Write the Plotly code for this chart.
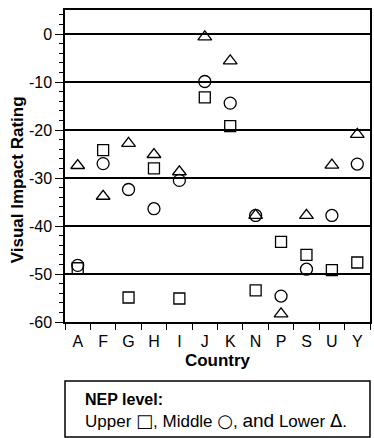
import plotly.graph_objects as go

countries = ["A", "F", "G", "H", "I", "J", "K", "N", "P", "S", "U", "Y"]
upper = [-48.8, -24.2, -54.9, -28.0, -55.1, -13.2, -19.2, -53.4, -43.3, -46.0, -49.2, -47.6]
middle = [-48.2, -27.0, -32.4, -36.4, -30.5, -9.9, -14.4, -37.8, -54.6, -49.0, -37.8, -27.1]
lower = [-27.4, -33.8, -22.8, -25.1, -28.7, -0.6, -5.6, -37.8, -58.3, -37.8, -27.3, -20.9]
y_ticks = [0, -10, -20, -30, -40, -50, -60]

FONT = "Liberation Sans, Arial, sans-serif"

fig = go.Figure()
series = [
    ("Upper", upper, "square-open", 11),
    ("Middle", middle, "circle-open", 12),
    ("Lower", lower, "triangle-up-open", 12),
]
for name, vals, sym, sz in series:
    fig.add_trace(go.Scatter(
        x=countries, y=vals, mode="markers", name=name,
        marker=dict(symbol=sym, size=sz, color="black",
                    line=dict(color="black", width=1.3)),
        showlegend=False, cliponaxis=False,
    ))

fig.update_layout(
    width=374, height=438,
    margin=dict(l=65, r=2, t=10, b=116),
    paper_bgcolor="white", plot_bgcolor="white",
    font=dict(family=FONT, color="black", size=15),
)
fig.update_xaxes(
    type="category", categoryorder="array", categoryarray=countries,
    tickson="boundaries", ticks="outside", ticklen=6, tickwidth=1.3,
    tickcolor="black", showgrid=False, showline=True, linecolor="black",
    linewidth=1.5, mirror=True, zeroline=False,
    tickfont=dict(size=16, family=FONT), ticklabelstandoff=4,
    title=dict(text="<b>Country</b>", font=dict(size=17, family=FONT), standoff=5),
    range=[-0.5, 11.5],
)
fig.update_yaxes(
    range=[-60, 5], tickvals=y_ticks, ticktext=[str(v) for v in y_ticks],
    ticks="outside", ticklen=8, tickwidth=1.3, tickcolor="black",
    minor=dict(dtick=2, tick0=0, ticks="outside", ticklen=4, tickwidth=1,
               tickcolor="black", showgrid=False),
    showgrid=True, gridcolor="black", gridwidth=1.5,
    showline=True, linecolor="black", linewidth=1.5, mirror=True,
    zeroline=False, tickfont=dict(size=16, family=FONT),
)

fig.add_annotation(
    text="<b>Visual Impact Rating</b>", textangle=-90,
    xref="paper", yref="paper", x=(17 - 65) / 307, y=(322 - 180) / 312,
    xanchor="center", yanchor="middle", showarrow=False,
    font=dict(size=17, family=FONT, color="black"),
)

fig.add_shape(
    type="rect", xref="paper", yref="paper",
    x0=0, x1=1, y0=(322 - 437) / 312, y1=(322 - 381) / 312,
    line=dict(color="black", width=1.5), fillcolor="white",
)
fig.add_annotation(
    text="<b>NEP level:</b>", xref="paper", yref="paper",
    x=(83 - 65) / 307, y=(322 - 399) / 312, xanchor="left", yanchor="middle",
    showarrow=False, font=dict(size=16, family=FONT, color="black"),
)
sym = '<span style="font-family:DejaVu Sans;font-size:18px">{}</span>'
fig.add_annotation(
    text="Upper " + sym.format("\u25a1") + ", Middle " + sym.format("\u25cb")
         + ", <span style=\"font-size:19px\">and</span> Lower " + sym.format("\u0394") + ".",
    xref="paper", yref="paper",
    x=(83 - 65) / 307, y=(322 - 420) / 312, xanchor="left", yanchor="middle",
    showarrow=False, font=dict(size=17, family=FONT, color="black"),
)

fig.write_html(
    "out.html",
    config={"displayModeBar": False},
    post_script="document.body.style.margin='0';document.body.style.overflow='hidden';",
)
